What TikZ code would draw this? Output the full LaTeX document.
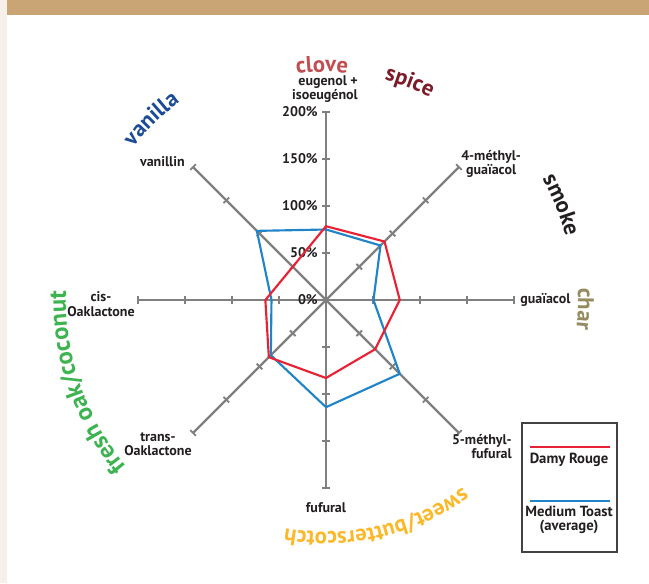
\documentclass[tikz,border=0pt]{standalone}
\usepackage{fontspec}
\setmainfont{PT Sans}
\usepackage{tikz}
\usetikzlibrary{decorations.text}
\definecolor{bandtan}{RGB}{201,165,118}
\definecolor{sidebeige}{RGB}{247,239,234}
\definecolor{axisgray}{RGB}{128,128,128}
\definecolor{inkblack}{RGB}{35,31,32}
\definecolor{damyred}{RGB}{232,34,52}
\definecolor{toastblue}{RGB}{32,132,200}
\definecolor{clovered}{RGB}{192,78,82}
\definecolor{spicered}{RGB}{125,28,40}
\definecolor{vanillablue}{RGB}{28,76,150}
\definecolor{charolive}{RGB}{148,140,96}
\definecolor{oakgreen}{RGB}{62,180,80}
\definecolor{sweetyellow}{RGB}{251,184,40}
\newcommand{\flavourfont}{\fontsize{17}{17}\selectfont\bfseries}

\begin{document}
\begin{tikzpicture}[x=0.75pt, y=0.75pt,
  axis/.style={axisgray, line width=1.8pt},
  tickmark/.style={axisgray, line width=1.4pt},
  compound/.style={font=\fontsize{10.5}{10.8}\selectfont\bfseries, text=inkblack, inner sep=0pt},
  pctlabel/.style={compound, anchor=east},
  profile/.style={line width=1.6pt, line join=miter},
  legendtext/.style={font=\fontsize{11}{11}\selectfont\bfseries, text=inkblack, inner sep=0pt, align=center}]
% Page background
\fill[white] (-326,-283) rectangle (323,300);
\fill[sidebeige] (-326,-283) rectangle (-319,300);
\fill[bandtan] (-319,285) rectangle (323,300);
\path[use as bounding box] (-326,-283) rectangle (323,300);

% Spokes with ticks every 50%
\foreach \a in {0,45,...,315} {
  \draw[axis] (0,0) -- (\a:188);
  \foreach \p in {50,100,150,200}
    \draw[tickmark, rotate=\a] ({\p*0.94},-4) -- ({\p*0.94},4);
}

% Percent scale on the top spoke
\foreach \p in {0,50,100,150,200}
  \node[pctlabel] (pct\p) at (-8,{\p*0.94}) {\p\%};

% Profiles
\draw[profile, toastblue] (90:{75*0.94})
  \foreach \a/\v in {45/82, 0/50.5, -45/111, -90/114, -135/83, 180/58, 135/104} { -- (\a:{\v*0.94}) } -- cycle;
\draw[profile, damyred] (90:{78.5*0.94})
  \foreach \a/\v in {45/88, 0/78.5, -45/74, -90/83, -135/86, 180/64.5, 135/50} { -- (\a:{\v*0.94}) } -- cycle;

% Compound names
\node[compound, anchor=south, align=right] (eugenol) at (-1,197) {eugenol +\\isoeugénol};
\node[compound, anchor=west, align=center] (methylguaiacol) at (135,136) {4-méthyl-\\guaïacol};
\node[compound, anchor=west] (guaiacol) at (194,0) {guaïacol};
\node[compound, anchor=north east, align=right] (methylfufural) at (186,-134) {5-méthyl-\\fufural};
\node[compound, anchor=north] (fufural) at (0,-202) {fufural};
\node[compound, anchor=north, align=center] (transoak) at (-168,-132) {trans-\\Oaklactone};
\node[compound, anchor=east, align=center] (cisoak) at (-191,-4) {cis-\\Oaklactone};
\node[compound, anchor=east] (vanillin) at (-141,138) {vanillin};

% Flavour families round the wheel
\path[decorate, decoration={text along path, text align=center, text color=clovered,
  text={|\flavourfont|clove}}] (121:228) arc[start angle=121, end angle=61, radius=228];
\path[decorate, decoration={text along path, text align=center, text color=spicered,
  text={|\flavourfont|spice}}] (99:228) arc[start angle=99, end angle=39, radius=228];
\path[decorate, decoration={text along path, text align=center, text color=vanillablue,
  text={|\flavourfont|vanilla}}] (164:246) arc[start angle=164, end angle=104, radius=246];
\path[decorate, decoration={text along path, text align=center, text color=inkblack,
  text={|\flavourfont|smoke}}] (52:248) arc[start angle=52, end angle=-8, radius=248];
\path[decorate, decoration={text along path, text align=center, text color=charolive,
  text={|\flavourfont|char}}] (28:252) arc[start angle=28, end angle=-32, radius=252];
\path[decorate, decoration={text along path, text align=center, text color=oakgreen,
  text={|\fontsize{18.5}{18.5}\selectfont\bfseries|fresh oak/coconut}}] (240:260) arc[start angle=240, end angle=158, radius=260];
\path[decorate, decoration={text along path, text align=center, text color=sweetyellow,
  text={|\flavourfont|sweet/butterscotch}}] (-37:232) arc[start angle=-37, end angle=-117, radius=232];

% Legend
\draw[inkblack!85, line width=1pt] (196,-123) rectangle (291,-252);
\draw[profile, damyred] (204,-147) -- (284,-147);
\node[legendtext] (damylabel) at (243,-160) {Damy Rouge};
\draw[profile, toastblue] (204,-201) -- (284,-201);
\node[legendtext] (toastlabel) at (243,-220) {Medium Toast\\(average)};
\end{tikzpicture}
\end{document}
